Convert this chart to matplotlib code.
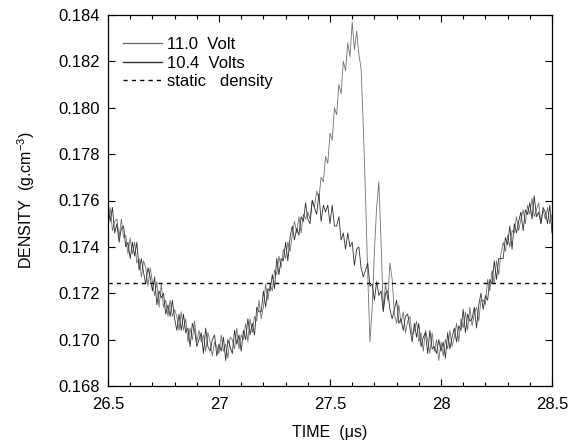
import numpy as np
import matplotlib
matplotlib.use("Agg")
import matplotlib.pyplot as plt
from matplotlib.ticker import MultipleLocator, FormatStrFormatter

# ---- data (density in units of 1e-4 g/cm^3, sampled every 0.01 us from 26.50 us) ----
t_start = 26.50
t_step = 0.01

density_110V = [
    1752, 1757, 1747, 1751, 1752, 1744, 1752, 1744, 1745, 1737,
    1744, 1737, 1742, 1733, 1735, 1727, 1734, 1731, 1723, 1731,
    1725, 1719, 1725, 1714, 1724, 1714, 1717, 1710, 1717, 1710,
    1713, 1710, 1704, 1712, 1704, 1709, 1699, 1705, 1700, 1708,
    1699, 1704, 1699, 1702, 1695, 1703, 1699, 1693, 1699, 1697,
    1694, 1702, 1695, 1698, 1692, 1701, 1700, 1696, 1705, 1696,
    1702, 1700, 1707, 1699, 1709, 1703, 1710, 1708, 1717, 1709,
    1714, 1724, 1717, 1724, 1721, 1730, 1728, 1736, 1731, 1739,
    1735, 1742, 1738, 1745, 1751, 1746, 1753, 1746, 1754, 1752,
    1755, 1752, 1760, 1757, 1764, 1761, 1770, 1768, 1779, 1776,
    1789, 1786, 1800, 1797, 1810, 1806, 1820, 1816, 1828, 1822,
    1837, 1825, 1833, 1823, 1817, 1792, 1762, 1728, 1699, 1714,
    1738, 1757, 1768, 1742, 1713, 1724, 1717, 1733, 1726, 1711,
    1707, 1715, 1707, 1712, 1703, 1708, 1710, 1702, 1704, 1708,
    1699, 1703, 1695, 1704, 1700, 1694, 1703, 1695, 1700, 1691,
    1699, 1693, 1700, 1696, 1704, 1697, 1701, 1707, 1699, 1709,
    1705, 1712, 1704, 1714, 1706, 1711, 1714, 1708, 1717, 1717,
    1715, 1726, 1721, 1730, 1724, 1734, 1728, 1737, 1742, 1738,
    1745, 1740, 1747, 1746, 1753, 1747, 1752, 1756, 1750, 1758,
    1754, 1761, 1753, 1756, 1759, 1750, 1756, 1752, 1757, 1750,
    1754,
]

density_104V = [
    1757, 1751, 1757, 1746, 1750, 1742, 1748, 1749, 1740, 1742,
    1735, 1742, 1736, 1742, 1730, 1735, 1729, 1724, 1731, 1727,
    1721, 1727, 1715, 1721, 1718, 1720, 1711, 1715, 1710, 1717,
    1709, 1704, 1711, 1704, 1711, 1703, 1705, 1697, 1707, 1704,
    1697, 1700, 1703, 1694, 1705, 1697, 1695, 1700, 1702, 1693,
    1698, 1695, 1701, 1691, 1700, 1697, 1694, 1704, 1698, 1702,
    1695, 1704, 1700, 1709, 1702, 1707, 1702, 1714, 1712, 1712,
    1721, 1714, 1722, 1721, 1728, 1722, 1735, 1728, 1735, 1734,
    1742, 1734, 1744, 1749, 1743, 1748, 1745, 1753, 1751, 1759,
    1752, 1750, 1760, 1757, 1754, 1763, 1751, 1758, 1755, 1758,
    1750, 1758, 1749, 1749, 1753, 1743, 1746, 1739, 1746, 1740,
    1742, 1732, 1739, 1740, 1731, 1727, 1730, 1733, 1723, 1724,
    1717, 1725, 1719, 1721, 1712, 1720, 1721, 1713, 1709, 1713,
    1717, 1707, 1709, 1704, 1710, 1711, 1705, 1699, 1707, 1701,
    1707, 1697, 1701, 1703, 1694, 1704, 1696, 1697, 1694, 1700,
    1695, 1699, 1692, 1703, 1696, 1701, 1705, 1699, 1706, 1704,
    1713, 1703, 1711, 1708, 1709, 1714, 1705, 1715, 1720, 1713,
    1719, 1717, 1726, 1724, 1734, 1726, 1735, 1735, 1735, 1744,
    1741, 1749, 1739, 1750, 1746, 1751, 1755, 1747, 1756, 1754,
    1759, 1752, 1762, 1753, 1755, 1750, 1757, 1755, 1750, 1758,
    1746,
]

static_density = 0.17245

labels = ["11.0  Volt", "10.4  Volts", "static   density"]
x_ticks = [26.5, 27.0, 27.5, 28.0, 28.5]
x_tick_labels = ["26.5", "27", "27.5", "28", "28.5"]
y_ticks = [0.168, 0.170, 0.172, 0.174, 0.176, 0.178, 0.180, 0.182, 0.184]

# ---- build arrays ----
n = len(density_110V)
time = np.round(t_start + t_step * np.arange(n), 2)
d110 = np.array(density_110V) / 1e4
d104 = np.array(density_104V) / 1e4

plt.rcParams['font.family'] = ['Liberation Sans', 'DejaVu Sans']
plt.rcParams['mathtext.fontset'] = 'custom'
plt.rcParams['mathtext.rm'] = 'Liberation Sans'
plt.rcParams['mathtext.it'] = 'Liberation Sans:italic'
plt.rcParams['mathtext.bf'] = 'Liberation Sans:bold'

fig = plt.figure(figsize=(5.87, 4.41), dpi=100)
ax = fig.add_axes([108/587, 1-386/441, 444/587, 371/441])

ax.plot(time, d110, color='#707070', lw=0.6, label=labels[0])
ax.plot(time, d104, color='#2e2e2e', lw=0.6, label=labels[1])
ax.axhline(static_density, color='black', lw=1.0, linestyle=(0, (3, 3)),
           label=labels[2])

ax.set_xlim(26.5, 28.5)
ax.set_ylim(0.168, 0.184)
ax.set_xticks(x_ticks)
ax.set_xticklabels(x_tick_labels)
ax.xaxis.set_minor_locator(MultipleLocator(0.1))
ax.set_yticks(y_ticks)
ax.yaxis.set_major_formatter(FormatStrFormatter('%.3f'))

ax.tick_params(which='both', direction='in', top=True, right=True,
               labelsize=12, width=0.8, colors='black')
ax.tick_params(which='major', length=5)
ax.tick_params(axis='x', which='major', pad=8)
ax.tick_params(axis='y', which='major', pad=6)
ax.tick_params(which='minor', length=3)
for s in ax.spines.values():
    s.set_linewidth(0.9)

ax.set_xlabel("TIME  (\u03bcs)", fontsize=11.5, labelpad=9)
ax.set_ylabel(r"DENSITY  (g.cm$^{-3}$)", fontsize=11.5, labelpad=15)

leg = ax.legend(loc='upper left', bbox_to_anchor=(0.034, 0.94), frameon=False,
                fontsize=12, handlelength=2.35, handletextpad=0.3,
                labelspacing=0.2, borderpad=0, borderaxespad=0)
for h in leg.get_lines():
    h.set_linewidth(1.0)

fig.savefig("out.png", dpi=100)
